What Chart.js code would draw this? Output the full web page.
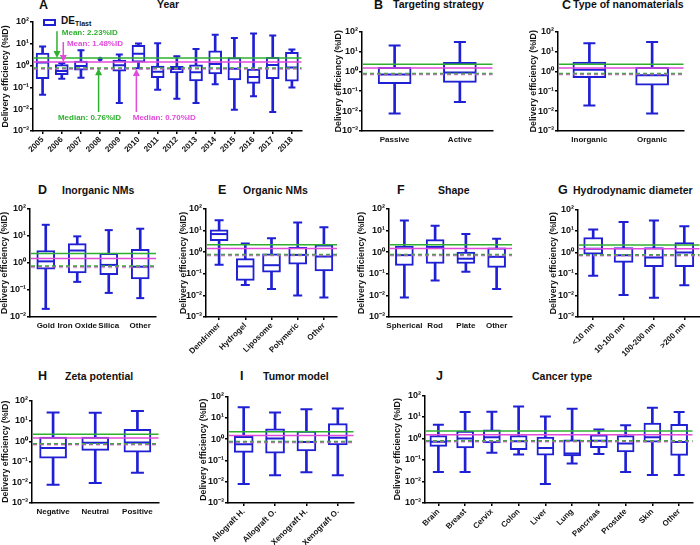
<!DOCTYPE html>
<html><head><meta charset="utf-8">
<script src="https://cdn.jsdelivr.net/npm/chart.js@4.4.0/dist/chart.umd.min.js"></script>
<style>
html,body{margin:0;padding:0;background:#fff;overflow:hidden;width:700px;height:545px;}
body{position:relative;font-family:"Liberation Sans",Arial,Helvetica,sans-serif;}
canvas{position:absolute;}
.t{position:absolute;font-weight:bold;font-size:10.5px;color:#111;white-space:nowrap;line-height:1;}
.l{font-size:12.5px;}
.leg{position:absolute;left:43px;top:19px;width:13px;height:7px;border:2px solid #1f1fd4;box-sizing:border-box;}
.legt{position:absolute;left:61px;top:16px;font-weight:bold;font-size:10px;color:#111;white-space:nowrap;line-height:1;}
.legt sub{font-size:7px;vertical-align:-2px;}
</style></head><body>

<div class="t l" style="left:39px;top:-1px">A</div><div class="t" style="left:157px;top:-1px">Year</div>
<div class="t l" style="left:374px;top:-1px">B</div><div class="t" style="left:393px;top:-1px">Targeting strategy</div>
<div class="t l" style="left:562px;top:-1px">C</div><div class="t" style="left:573px;top:-1px">Type of nanomaterials</div>
<div class="t l" style="left:38px;top:184px">D</div><div class="t" style="left:62px;top:185px">Inorganic NMs</div>
<div class="t l" style="left:218px;top:184px">E</div><div class="t" style="left:243px;top:185px">Organic NMs</div>
<div class="t l" style="left:397px;top:184px">F</div><div class="t" style="left:438px;top:185px">Shape</div>
<div class="t l" style="left:558px;top:184px">G</div><div class="t" style="left:573px;top:185px">Hydrodynamic diameter</div>
<div class="t l" style="left:38px;top:370px">H</div><div class="t" style="left:65px;top:371px">Zeta potential</div>
<div class="t l" style="left:240px;top:370px">I</div><div class="t" style="left:263px;top:371px">Tumor model</div>
<div class="t l" style="left:436px;top:370px">J</div><div class="t" style="left:532px;top:371px">Cancer type</div>
<div class="leg"></div><div class="legt">DE<sub>Tlast</sub></div>

<script>
// ---- data: [min, Q1, median, Q3, max] per category (%ID) ----
const meanRef = [2.23, 1.48];     // green, pink
const medianRef = [0.76, 0.70];   // green, pink

const yearLabels = ['2005','2006','2007','2008','2009','2010','2011','2012','2013','2014','2015','2016','2017','2018'];
const yearStats = [
  [0.046,0.25,1.4,3.8,7.5],
  [0.25,0.38,0.57,1.1,1.3],
  [0.28,0.61,0.97,1.6,5.1],
  null,
  [0.019,0.55,1.03,1.8,3.2],
  [0.75,1.45,3.5,8.5,10.3],
  [0.078,0.28,0.52,0.96,10.5],
  [0.03,0.46,0.69,0.92,2.7],
  [0.019,0.2,0.5,1.08,5.8],
  [0.14,0.41,1.17,4.7,26],
  [0.0095,0.22,0.72,2.35,18.5],
  [0.039,0.153,0.3,0.7,30],
  [0.0075,0.25,1.07,2.4,24],
  [0.1,0.195,0.82,4.05,5.5]
];
const yearSingle = [null,null,null,1.97,null,null,null,null,null,null,null,null,null,null];

const targetLabels = ['Passive','Active'];
const targetStats = [[0.0075,0.24,0.7,1.6,20],[0.029,0.28,0.87,2.8,30]];

const typeLabels = ['Inorganic','Organic'];
const typeStats = [[0.019,0.48,1.2,2.9,26],[0.0075,0.2,0.63,1.6,30]];

const inorgLabels = ['Gold','Iron Oxide','Silica','Other'];
const inorgStats = [[0.02,0.59,1.15,2.9,26],[0.2,0.43,2.9,5.2,9.7],[0.078,0.37,0.85,2.3,16.5],[0.05,0.26,0.73,3.2,18.6]];

const orgLabels = ['Dendrimer','Hydrogel','Liposome','Polymeric','Other'];
const orgStats = [[0.26,3.4,6.9,11,30],[0.03,0.05,0.22,0.5,2.5],[0.02,0.118,0.25,0.84,4.4],[0.01,0.28,0.75,1.7,24],[0.0081,0.135,0.63,2.2,14.4]];

const shapeLabels = ['Spherical','Rod','Plate','Other'];
const shapeStats = [[0.0079,0.245,0.73,1.9,29],[0.049,0.3,1.75,3.8,16.6],[0.126,0.3,0.5,1.0,6.9],[0.02,0.2,0.61,1.58,4.2]];

const sizeLabels = ['<10 nm','10-100 nm','100-200 nm','>200 nm'];
const sizeStats = [[0.083,0.84,1.5,5,11.7],[0.0105,0.35,0.75,1.7,26],[0.0078,0.22,0.59,1.7,31],[0.03,0.22,1.0,2.9,16.6]];

const zetaLabels = ['Negative','Neutral','Positive'];
const zetaStats = [[0.0077,0.155,0.48,1.65,26],[0.0095,0.37,0.87,1.65,25],[0.03,0.3,0.9,3.9,31]];

const tumorLabels = ['Allograft H.','Allograft O.','Xenograft H.','Xenograft O.'];
const tumorStats = [[0.0077,0.24,0.58,1.35,31],[0.02,0.22,1.07,3.0,17.6],[0.028,0.28,0.73,2.4,25],[0.02,0.53,1.16,5.3,27]];

const cancerLabels = ['Brain','Breast','Cervix','Colon','Liver','Lung','Pancreas','Prostate','Skin','Other'];
const cancerStats = [[0.028,0.43,0.7,1.37,4.4],[0.028,0.36,1.0,2.2,17],[0.22,0.63,1.15,2.5,17.5],[0.18,0.3,0.75,1.35,31],[0.0076,0.17,0.36,1.15,10.6],[0.068,0.155,0.2,0.87,24],[0.19,0.37,0.78,1.5,2.6],[0.028,0.235,0.59,1.37,4.1],[0.02,0.68,1.15,5.2,27],[0.02,0.165,0.68,4.6,17]];

// ---- styling ----
const BLUE = '#1f1fd4', GREEN = '#2fb02f', PINK = '#e04bd9';
const FONT = '"Liberation Sans", Arial, Helvetica, sans-serif';
const SUP = {'-':'\u207B','0':'\u2070','1':'\u00B9','2':'\u00B2','3':'\u00B3'};
const sup = e => '10' + String(e).split('').map(c => SUP[c]).join('');

const refLinesPlugin = {
  id: 'refLines',
  afterDatasetsDraw(chart) {
    const {ctx, chartArea: a, scales: {y}} = chart;
    const line = (v, color, w, dash, alpha) => {
      const py = y.getPixelForValue(v);
      ctx.save(); ctx.globalAlpha = alpha || 1; ctx.strokeStyle = color; ctx.lineWidth = w;
      ctx.setLineDash(dash || []); ctx.beginPath(); ctx.moveTo(a.left + 1, py); ctx.lineTo(a.right, py); ctx.stroke(); ctx.restore();
    };
    line(meanRef[0], GREEN, 1.5);
    line(meanRef[1], PINK, 1.5);
    line(medianRef[0], GREEN, 2, [4, 3]);
    line(medianRef[1], PINK, 2, [4, 3], 0.5);
  }
};

const notesPlugin = {
  id: 'notes',
  afterDatasetsDraw(chart, args, opts) {
    const items = opts.items || [];
    const {ctx, scales: {x, y}} = chart;
    ctx.save();
    for (const n of items) {
      const ax = x.getPixelForValue(n.arrowAt);
      const y0 = y.getPixelForValue(n.arrowFrom), y1 = y.getPixelForValue(n.arrowTo);
      const d = Math.sign(y1 - y0);
      ctx.strokeStyle = n.color; ctx.fillStyle = n.color; ctx.lineWidth = 1.5;
      ctx.beginPath(); ctx.moveTo(ax, y0); ctx.lineTo(ax, y1 - d * 6); ctx.stroke();
      ctx.beginPath(); ctx.moveTo(ax - 3.5, y1 - d * 7); ctx.lineTo(ax + 3.5, y1 - d * 7); ctx.lineTo(ax, y1); ctx.closePath(); ctx.fill();
      ctx.font = 'bold 8px ' + FONT; ctx.textAlign = 'left'; ctx.textBaseline = 'middle';
      ctx.fillText(n.text, x.getPixelForValue(n.textAt), y.getPixelForValue(n.textY));
    }
    ctx.restore();
  }
};

const yearNotes = [
  {text: 'Mean: 2.23%ID', color: GREEN, arrowAt: 0.75, arrowFrom: 38, arrowTo: meanRef[0], textAt: 1.0, textY: 31},
  {text: 'Mean: 1.48%ID', color: PINK, arrowAt: 1.08, arrowFrom: 12, arrowTo: meanRef[1], textAt: 1.27, textY: 9.8},
  {text: 'Median: 0.76%ID', color: GREEN, arrowAt: 2.92, arrowFrom: 0.0074, arrowTo: medianRef[0], textAt: 0.8, textY: 0.004},
  {text: 'Median: 0.70%ID', color: PINK, arrowAt: 4.89, arrowFrom: 0.0074, arrowTo: medianRef[1], textAt: 4.7, textY: 0.004}
];

const panels = [
  {labels: yearLabels, stats: yearStats, single: yearSingle, notes: yearNotes, x0: 33, x1: 305, y0: 22, y1: 131, ymin: 1e-3, bw: 13, cw: 7, rot: true, yw: 33, xh: 40},
  {labels: targetLabels, stats: targetStats, x0: 362, x1: 506, y0: 22, y1: 131, ymin: 1e-3, bw: 33, cw: 12, rot: false, yw: 29, xh: 20},
  {labels: typeLabels, stats: typeStats, x0: 558, x1: 697, y0: 22, y1: 131, ymin: 1e-3, bw: 33, cw: 12, rot: false, yw: 30, xh: 20},
  {labels: inorgLabels, stats: inorgStats, x0: 30, x1: 162, y0: 207, y1: 316.5, ymin: 1e-2, bw: 18, cw: 8, rot: false, yw: 31, xh: 20},
  {labels: orgLabels, stats: orgStats, x0: 206, x1: 343, y0: 207, y1: 316.5, ymin: 1e-3, bw: 18, cw: 9, rot: true, yw: 28, xh: 45},
  {labels: shapeLabels, stats: shapeStats, x0: 389, x1: 518, y0: 207, y1: 316.5, ymin: 1e-3, bw: 18, cw: 9, rot: false, yw: 33, xh: 20},
  {labels: sizeLabels, stats: sizeStats, x0: 578, x1: 706, y0: 207, y1: 316.5, ymin: 1e-3, bw: 19, cw: 10, rot: true, yw: 30, xh: 45},
  {labels: zetaLabels, stats: zetaStats, x0: 32, x1: 169, y0: 394, y1: 503, ymin: 1e-3, bw: 27, cw: 13, rot: false, yw: 32, xh: 20},
  {labels: tumorLabels, stats: tumorStats, x0: 228, x1: 360, y0: 394, y1: 503, ymin: 1e-3, bw: 19, cw: 12, rot: true, yw: 30, xh: 42},
  {labels: cancerLabels, stats: cancerStats, x0: 425, x1: 698, y0: 394, y1: 503, ymin: 1e-3, bw: 17, cw: 11, rot: true, yw: 33, xh: 42}
];

function makePanel(p) {
  const padT = 8, padR = 4;
  const W = Math.round(p.yw + (p.x1 - p.x0) + padR);
  const H = Math.round(padT + (p.y1 - p.y0) + p.xh);
  const cv = document.createElement('canvas');
  cv.width = W; cv.height = H;
  cv.style.left = (p.x0 - p.yw) + 'px'; cv.style.top = (p.y0 - padT) + 'px';
  cv.style.width = W + 'px'; cv.style.height = H + 'px';
  document.body.appendChild(cv);
  const st = p.stats;
  const col = i => st.map(t => t ? t[i] : null);
  const pt = (data, r, order) => ({type: 'line', data, showLine: false, pointStyle: 'line', pointRadius: r,
    pointHoverRadius: r, pointBorderWidth: 2, pointBorderColor: BLUE, pointBackgroundColor: BLUE, order});
  const datasets = [
    {type: 'bar', data: st.map(t => t ? [t[0], t[4]] : null), backgroundColor: BLUE, borderWidth: 0, barThickness: 2, grouped: false, order: 5},
    {type: 'bar', data: st.map(t => t ? [t[1], t[3]] : null), backgroundColor: '#fff', borderColor: BLUE, borderWidth: 2,
      borderSkipped: false, barThickness: p.bw, grouped: false, order: 4},
    pt(col(2), p.bw / 2 - 1, 3),
    pt(col(0), p.cw / 2, 2),
    pt(col(4), p.cw / 2, 1)
  ];
  if (p.single) datasets.push({type: 'line', data: p.single, showLine: false, pointStyle: 'circle', pointRadius: 2,
    pointBackgroundColor: BLUE, pointBorderColor: BLUE, pointBorderWidth: 1, order: 0});
  const tickFont = {family: FONT, size: 8, weight: 'bold'};
  new Chart(cv, {
    type: 'bar',
    data: {labels: p.labels, datasets},
    options: {
      responsive: false, animation: false, events: [], devicePixelRatio: 1,
      layout: {padding: {top: padT, right: padR, left: 0, bottom: 0}},
      plugins: {legend: {display: false}, tooltip: {enabled: false}, notes: {items: p.notes || []}},
      scales: {
        x: {
          type: 'category', offset: true,
          grid: {display: true, drawOnChartArea: false, drawTicks: p.rot, tickLength: 3, color: '#000', lineWidth: 1.5, offset: false},
          border: {display: true, color: '#000', width: 1.5},
          ticks: {autoSkip: false, maxRotation: p.rot ? 45 : 0, minRotation: p.rot ? 45 : 0, padding: p.rot ? 1 : 4, color: '#111', font: tickFont},
          afterFit(s) { s.height = p.xh; }
        },
        y: {
          type: 'logarithmic', min: p.ymin, max: 100,
          grid: {drawOnChartArea: false, drawTicks: true, tickLength: 3, color: '#000', lineWidth: 1.5},
          border: {display: true, color: '#000', width: 1.5},
          ticks: {color: '#111', padding: 1, font: {family: FONT, size: 9, weight: 'bold'}, callback: v => sup(Math.round(Math.log10(v)))},
          afterBuildTicks(s) {
            const t = [];
            for (let e = Math.round(Math.log10(p.ymin)); e <= 2; e++) t.push({value: Math.pow(10, e)});
            s.ticks = t;
          },
          title: {display: true, text: 'Delivery efficiency (%ID)', color: '#111', font: {family: FONT, size: 8.8, weight: 'bold'}, padding: 0},
          afterFit(s) { s.width = p.yw; }
        }
      }
    },
    plugins: [refLinesPlugin, notesPlugin]
  });
}
panels.forEach(makePanel);
</script>
</body></html>
